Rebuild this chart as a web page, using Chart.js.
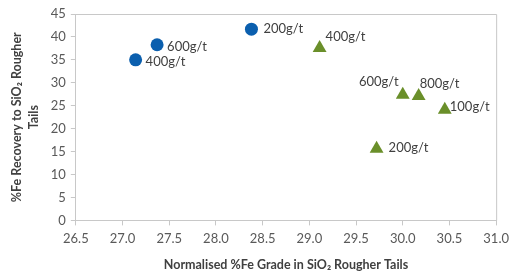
<!DOCTYPE html>
<html>
<head>
<meta charset="utf-8">
<script src="https://cdn.jsdelivr.net/npm/chart.js@4"></script>
<style>
  html, body { margin: 0; padding: 0; background: #fff; }
  #wrap { width: 515px; height: 272px; }
</style>
</head>
<body>
<div id="wrap"><canvas id="chart"></canvas></div>
<script>
// data
const blueX = [27.14, 27.37, 28.38];
const blueY = [35.0, 38.3, 41.7];
const blueLabels = ["400g/t", "600g/t", "200g/t"];

const greenX = [29.11, 30.0, 30.17, 30.45, 29.72];
const greenY = [37.6, 27.4, 27.1, 24.1, 15.6];
const greenLabels = ["400g/t", "600g/t", "800g/t", "100g/t", "200g/t"];

const xTicks = [26.5, 27.0, 27.5, 28.0, 28.5, 29.0, 29.5, 30.0, 30.5, 31.0];
const yTicks = [0, 5, 10, 15, 20, 25, 30, 35, 40, 45];

const FONT = "Lato";

// where each label sits relative to its marker (dx, dy, align)
const blueOffsets = [[10, 2, "left"], [10, 2, "left"], [12, 0, "left"]];
const greenOffsets = [[6, -11, "left"], [-4, -13, "right"], [1, -12, "left"], [5, -3, "left"], [12, -1, "left"]];

const toPoints = (xs, ys) => xs.map((x, i) => ({ x: x, y: ys[i] }));

// point labels + frame
const labelPlugin = {
    id: "pointLabels",
    afterDatasetsDraw(chart) {
        const c = chart.ctx;
        const area = chart.chartArea;
        c.save();
        c.strokeStyle = "#c8c8c8";
        c.lineWidth = 1;
        c.beginPath();
        c.moveTo(area.left, area.top + 0.5);
        c.lineTo(area.right + 0.5, area.top + 0.5);
        c.lineTo(area.right + 0.5, area.bottom);
        c.stroke();

        c.font = "13px " + FONT;
        c.fillStyle = "#404040";
        c.textBaseline = "middle";
        const sets = [[blueLabels, blueOffsets], [greenLabels, greenOffsets]];
        sets.forEach((s, di) => {
            const meta = chart.getDatasetMeta(di);
            meta.data.forEach((el, i) => {
                const off = s[1][i];
                c.textAlign = off[2];
                c.fillText(s[0][i], el.x + off[0], el.y + off[1]);
            });
        });
        c.restore();
    },
};

new Chart(document.getElementById("chart"), {
    type: "scatter",
    data: {
        datasets: [
            {
                label: "Series 1",
                data: toPoints(blueX, blueY),
                pointStyle: "circle",
                pointRadius: 6.5,
                pointHoverRadius: 6.5,
                backgroundColor: "#0b5fae",
                borderColor: "#0b5fae",
                borderWidth: 0,
            },
            {
                label: "Series 2",
                data: toPoints(greenX, greenY),
                pointStyle: "triangle",
                pointRadius: 8,
                pointHoverRadius: 8,
                backgroundColor: "#6a8f2a",
                borderColor: "#6a8f2a",
                borderWidth: 0,
            },
        ],
    },
    options: {
        responsive: true,
        maintainAspectRatio: false,
        animation: false,
        layout: { padding: { top: 14, right: 10, left: 9, bottom: 0 } },
        plugins: {
            legend: { display: false },
            tooltip: { enabled: false },
        },
        scales: {
            x: {
                type: "linear",
                min: 26.5,
                max: 31.0,
                afterBuildTicks: (axis) => { axis.ticks = xTicks.map((v) => ({ value: v })); },
                ticks: {
                    color: "#595959",
                    font: { family: FONT, size: 13 },
                    padding: 6,
                    maxRotation: 0,
                    callback: (v) => v.toFixed(1),
                },
                grid: { drawOnChartArea: false, drawTicks: true, tickLength: 5, color: "#c8c8c8" },
                border: { color: "#c8c8c8", width: 1 },
                title: {
                    display: true,
                    text: "Normalised %Fe Grade in SiO\u2082 Rougher Tails",
                    color: "#404040",
                    font: { family: FONT, size: 12.5, weight: "bold" },
                    padding: { top: 4, bottom: 0 },
                },
            },
            y: {
                type: "linear",
                min: 0,
                max: 45,
                afterBuildTicks: (axis) => { axis.ticks = yTicks.map((v) => ({ value: v })); },
                ticks: {
                    color: "#595959",
                    font: { family: FONT, size: 13 },
                    padding: 5,
                },
                grid: { drawOnChartArea: false, drawTicks: true, tickLength: 5, color: "#c8c8c8" },
                border: { color: "#c8c8c8", width: 1 },
                title: {
                    display: true,
                    text: ["%Fe Recovery to SiO\u2082 Rougher", "Tails"],
                    color: "#404040",
                    font: { family: FONT, size: 12.5, weight: "bold", lineHeight: 1.35 },
                    padding: { top: 0, bottom: 3 },
                },
            },
        },
    },
    plugins: [labelPlugin],
});
</script>
</body>
</html>
